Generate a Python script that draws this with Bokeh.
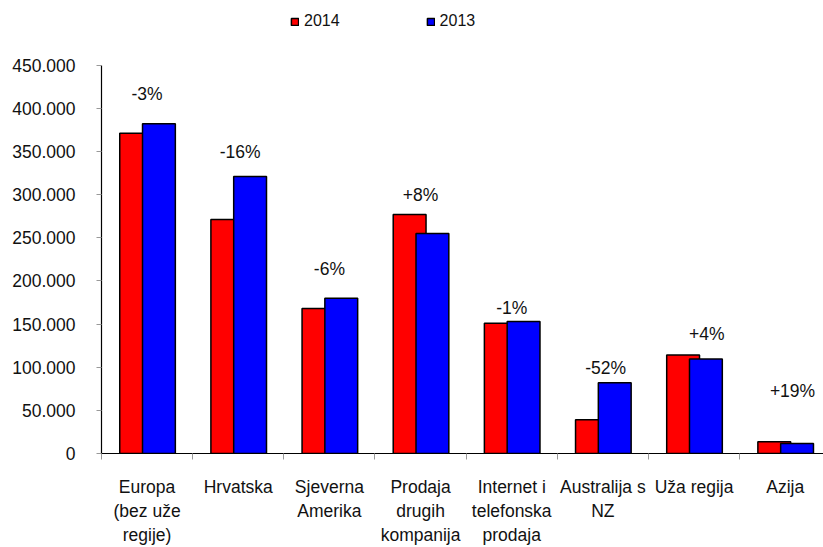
from bokeh.plotting import figure
from bokeh.models import Range1d, FixedTicker, Legend, LegendItem, ColumnDataSource
from bokeh.embed import file_html
from bokeh.resources import INLINE
from bokeh.core.properties import value

# ---- data ----
categories = ["Europa\n(bez uže\nregije)", "Hrvatska", "Sjeverna\nAmerika",
              "Prodaja\ndrugih\nkompanija", "Internet i\ntelefonska\nprodaja",
              "Australija s\nNZ", "Uža regija", "Azija"]
v2014 = [371000, 271000, 168000, 277000, 151000, 39000, 114000, 13500]
v2013 = [382000, 321000, 180000, 255000, 153000, 82000, 109500, 11500]
pct_labels = ["-3%", "-16%", "-6%", "+8%", "-1%", "-52%", "+4%", "+19%"]
pct_label_y = [416000, 349000, 214000, 300000, 168000, 99000, 138000, 72500]
pct_label_dx = [0.0, 0.02, 0.0, 0.0, 0.0, 0.03, 0.14, 0.08]
y_ticks = [0, 50000, 100000, 150000, 200000, 250000, 300000, 350000, 400000, 450000]
y_tick_labels = ["0", "50.000", "100.000", "150.000", "200.000", "250.000",
                 "300.000", "350.000", "400.000", "450.000"]
series_names = ["2014", "2013"]

FONT = "Liberation Sans"
n = len(categories)
centers = [i + 0.5 for i in range(n)]
y_max = y_ticks[-1]
# frame extends above the axis top (450.000 at 65px) up to the canvas top, to hold the legend
y_end = y_max * 456 / 391

p = figure(width=823, height=547, x_range=Range1d(0, 7.92), y_range=Range1d(0, y_end),
           output_backend="svg", toolbar_location=None,
           min_border_left=101, min_border_right=0, min_border_top=0, min_border_bottom=91)
p.outline_line_color = None
p.xgrid.visible = False
p.ygrid.visible = False
p.background_fill_color = "white"
p.border_fill_color = "white"

src = ColumnDataSource(dict(
    x14=[c - 0.12 for c in centers], x13=[c + 0.13 for c in centers],
    v14=v2014, v13=v2013))

r1 = p.vbar(x="x14", top="v14", width=0.36, source=src,
            fill_color="#FF0000", line_color="black", line_width=1.5)
r2 = p.vbar(x="x13", top="v13", width=0.36, source=src,
            fill_color="#0000FF", line_color="black", line_width=1.5)

lab_src = ColumnDataSource(dict(
    x=[c + d for c, d in zip(centers, pct_label_dx)], y=pct_label_y, t=pct_labels))
p.text(x="x", y="y", text="t", source=lab_src, text_align="center",
       text_baseline="middle", text_font=value(FONT), text_font_size="17.5px",
       text_color="#111111")

# x axis
xa = p.xaxis[0]
xa.ticker = FixedTicker(ticks=centers, minor_ticks=list(range(n + 1)))
xa.major_label_overrides = {c: lab for c, lab in zip(centers, categories)}
xa.major_tick_in = 0
xa.major_tick_out = 0
xa.minor_tick_in = 0
xa.minor_tick_out = 6
xa.minor_tick_line_color = "#999999"
xa.axis_line_color = "black"
xa.axis_line_width = 1.2
xa.major_label_text_font = FONT
xa.major_label_text_font_size = "17.5px"
xa.major_label_text_color = "#111111"
xa.major_label_standoff = 17

# y axis
ya = p.yaxis[0]
ya.ticker = FixedTicker(ticks=y_ticks)
ya.bounds = (0, y_max)
ya.major_label_overrides = {t: l for t, l in zip(y_ticks, y_tick_labels)}
ya.major_tick_in = 0
ya.major_tick_out = 5
ya.major_tick_line_color = "#999999"
ya.minor_tick_out = 0
ya.minor_tick_in = 0
ya.axis_line_color = "black"
ya.axis_line_width = 1.2
ya.major_label_text_font = FONT
ya.major_label_text_font_size = "17.5px"
ya.major_label_text_color = "#111111"
ya.major_label_standoff = 21

legend = Legend(items=[LegendItem(label=series_names[0], renderers=[r1]),
                       LegendItem(label=series_names[1], renderers=[r2])],
                orientation="horizontal", location=(189, 423),
                glyph_width=9, glyph_height=9, label_standoff=5, spacing=86,
                padding=0, margin=0, border_line_color=None,
                background_fill_alpha=0, label_text_font=FONT,
                label_text_font_size="16px", label_text_color="#111111")
p.add_layout(legend)

open("out.html", "w").write(file_html(p, INLINE))
